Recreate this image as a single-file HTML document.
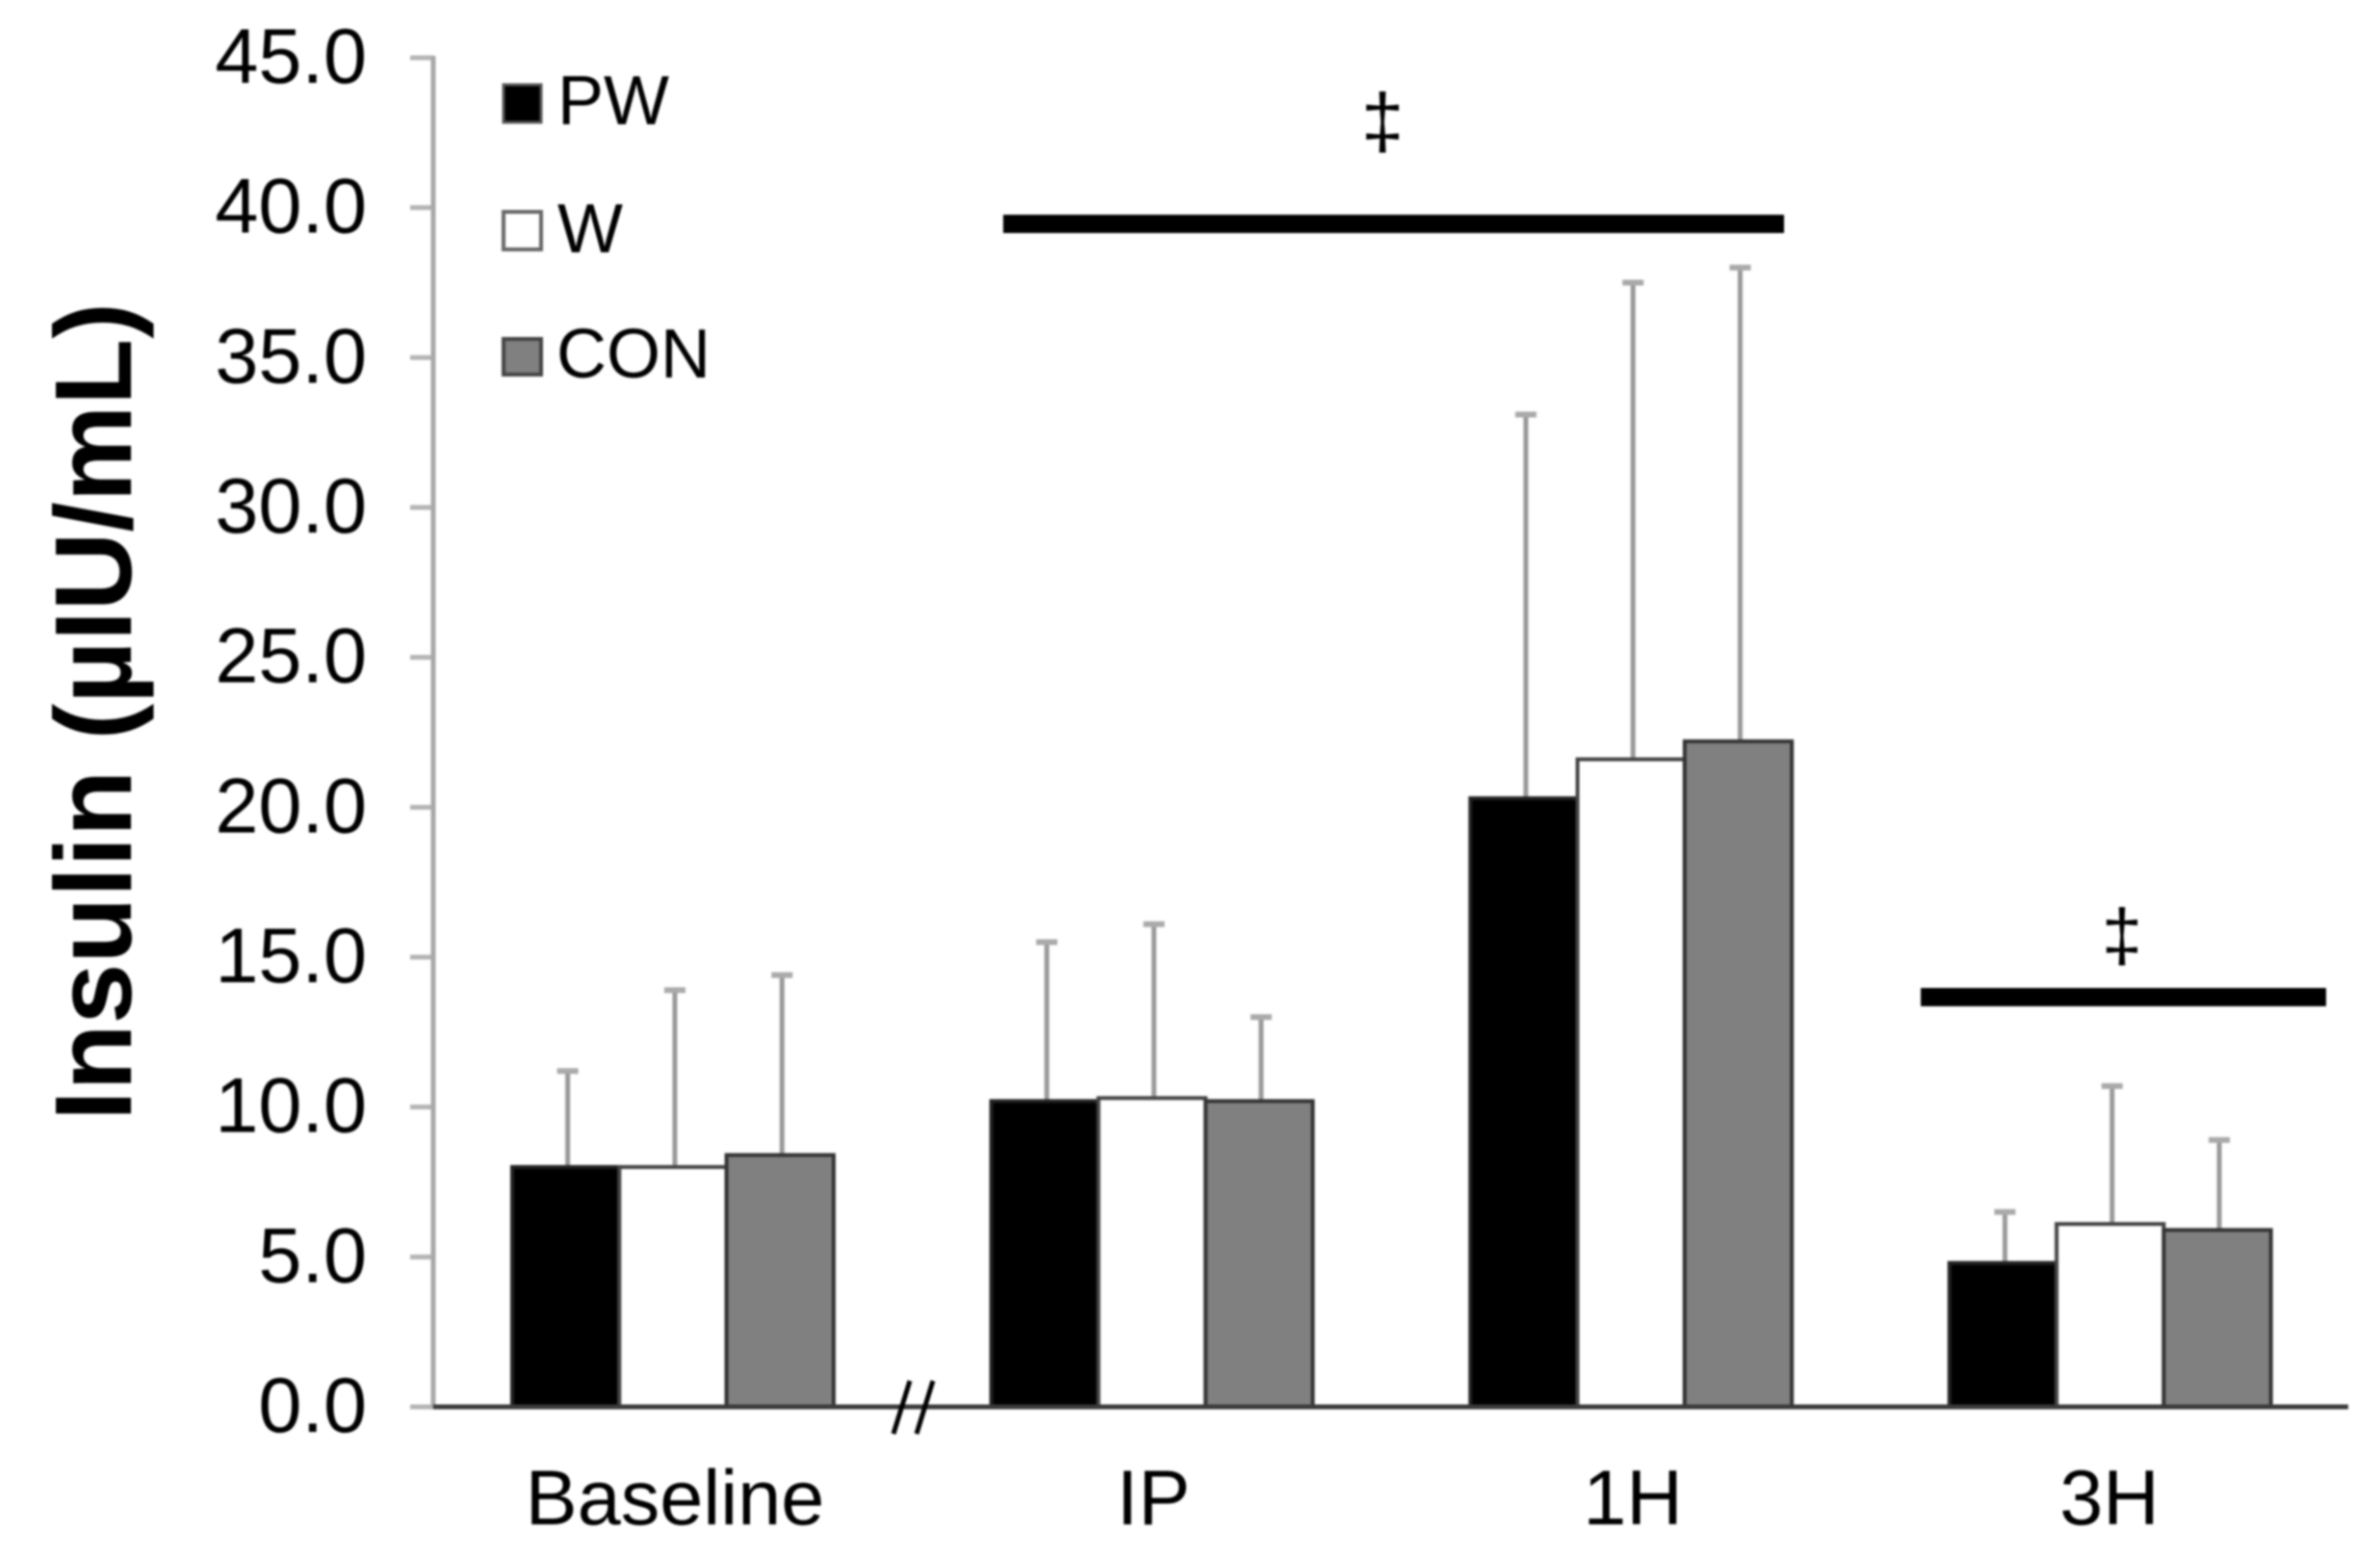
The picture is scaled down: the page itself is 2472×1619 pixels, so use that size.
<!DOCTYPE html>
<html lang="en">
<head>
<meta charset="utf-8">
<title>Insulin chart</title>
<style>
html,body{margin:0;padding:0;background:#fff;}
body{width:2472px;height:1619px;overflow:hidden;}
svg{display:block;filter:blur(1.1px);}
text{font-family:"Liberation Sans",Arial,sans-serif;fill:#000;}
</style>
</head>
<body>
<svg id="chart" xmlns="http://www.w3.org/2000/svg" width="2472" height="1619" viewBox="0 0 2472 1619">
  <rect x="0" y="0" width="2472" height="1619" fill="#fff"/>
  <text transform="translate(136,739) rotate(-90)" text-anchor="middle" font-size="113" font-weight="700">Insulin (µIU/mL)</text>
  <g id="ticks"></g>
  <g id="marks"></g>
  <line x1="450" y1="58" x2="450" y2="1463" stroke="#a8a8a8" stroke-width="5"/>
  <line x1="450" y1="1461" x2="2439" y2="1461" stroke="#3a3a3a" stroke-width="5"/>
  <line x1="945" y1="1434" x2="928" y2="1489" stroke="#000" stroke-width="5"/>
  <line x1="969" y1="1434" x2="952" y2="1489" stroke="#000" stroke-width="5"/>
  <g>
    <rect x="523" y="88" width="39" height="39" fill="#000" stroke="#555" stroke-width="3"/>
    <text x="579" y="129" font-size="72">PW</text>
    <rect x="523" y="220" width="39" height="39" fill="#fff" stroke="#666" stroke-width="4"/>
    <text x="579" y="262" font-size="72">W</text>
    <rect x="523" y="352" width="39" height="37" fill="#808080" stroke="#444" stroke-width="4"/>
    <text x="578" y="392" font-size="72">CON</text>
  </g>
  <rect x="1042" y="223" width="811" height="19" fill="#000"/>
  <text x="1436" y="153" text-anchor="middle" font-size="80">‡</text>
  <rect x="1995" y="1026" width="421" height="19" fill="#000"/>
  <text x="2204" y="997" text-anchor="middle" font-size="76">‡</text>
</svg>
<script>
const categories = ['Baseline', 'IP', '1H', '3H'];
const seriesNames = ['PW', 'W', 'CON'];
const pwValues = [8.0, 10.2, 20.3, 4.8];
const wValues = [8.0, 10.3, 21.6, 6.1];
const conValues = [8.4, 10.2, 22.2, 5.9];
const pwErrorTops = [11.2, 15.5, 33.1, 6.5];
const wErrorTops = [13.9, 16.1, 37.5, 10.7];
const conErrorTops = [14.4, 13.0, 38.0, 8.9];
const yTicks = [0, 5, 10, 15, 20, 25, 30, 35, 40, 45];

const seriesValues = [pwValues, wValues, conValues];
const seriesTops = [pwErrorTops, wErrorTops, conErrorTops];
const fills = ['#000000', '#ffffff', '#808080'];
const strokes = ['#222222', '#444444', '#333333'];
const labelCenters = {Baseline: 701, IP: 1198, '1H': 1696, '3H': 2191};

const NS = 'http://www.w3.org/2000/svg';
const Y0 = 1461, Y45 = 60, YMAX = 45;
const GROUP_X = 532, GROUP_STEP = 497.6, BAR_W = 111.3;

function yScale(v) { return Y0 - (v / YMAX) * (Y0 - Y45); }
function xBar(g, s) { return GROUP_X + GROUP_STEP * g + BAR_W * s; }
function make(tag, attrs) {
  const el = document.createElementNS(NS, tag);
  for (const k in attrs) el.setAttribute(k, attrs[k]);
  return el;
}

const ticksG = document.getElementById('ticks');
yTicks.forEach(function (t) {
  const y = yScale(t);
  const tick = make('line', {x1: 426, x2: 450, y1: y, y2: y, stroke: '#b4b4b4', 'stroke-width': 5});
  
  
  ticksG.appendChild(tick);
  const label = make('text', {x: 381, y: y + 26, 'text-anchor': 'end', 'font-size': 81});
  
  
  label.textContent = t.toFixed(1);
  ticksG.appendChild(label);
});

const marksG = document.getElementById('marks');
categories.forEach(function (cat, g) {
  seriesNames.forEach(function (name, s) {
    const v = seriesValues[s][g];
    const top = seriesTops[s][g];
    const x = xBar(g, s);
    const cx = x + BAR_W / 2 + 2;

    const stem = make('line', {x1: cx, x2: cx, y1: yScale(v), y2: yScale(top), stroke: '#999999', 'stroke-width': 5});
    
    
    marksG.appendChild(stem);

    const cap = make('line', {x1: cx - 11, x2: cx + 11, y1: yScale(top), y2: yScale(top), stroke: '#aaaaaa', 'stroke-width': 6});
    
    
    marksG.appendChild(cap);

    const bar = make('rect', {x: x, y: yScale(v), width: BAR_W, height: Y0 - yScale(v), fill: fills[s], stroke: strokes[s], 'stroke-width': 4});
    
    
    marksG.appendChild(bar);
  });

  const catLabel = make('text', {x: labelCenters[cat], y: 1583, 'text-anchor': 'middle', 'font-size': 81});
  
  
  catLabel.textContent = cat;
  marksG.appendChild(catLabel);
});
</script>
</body>
</html>
